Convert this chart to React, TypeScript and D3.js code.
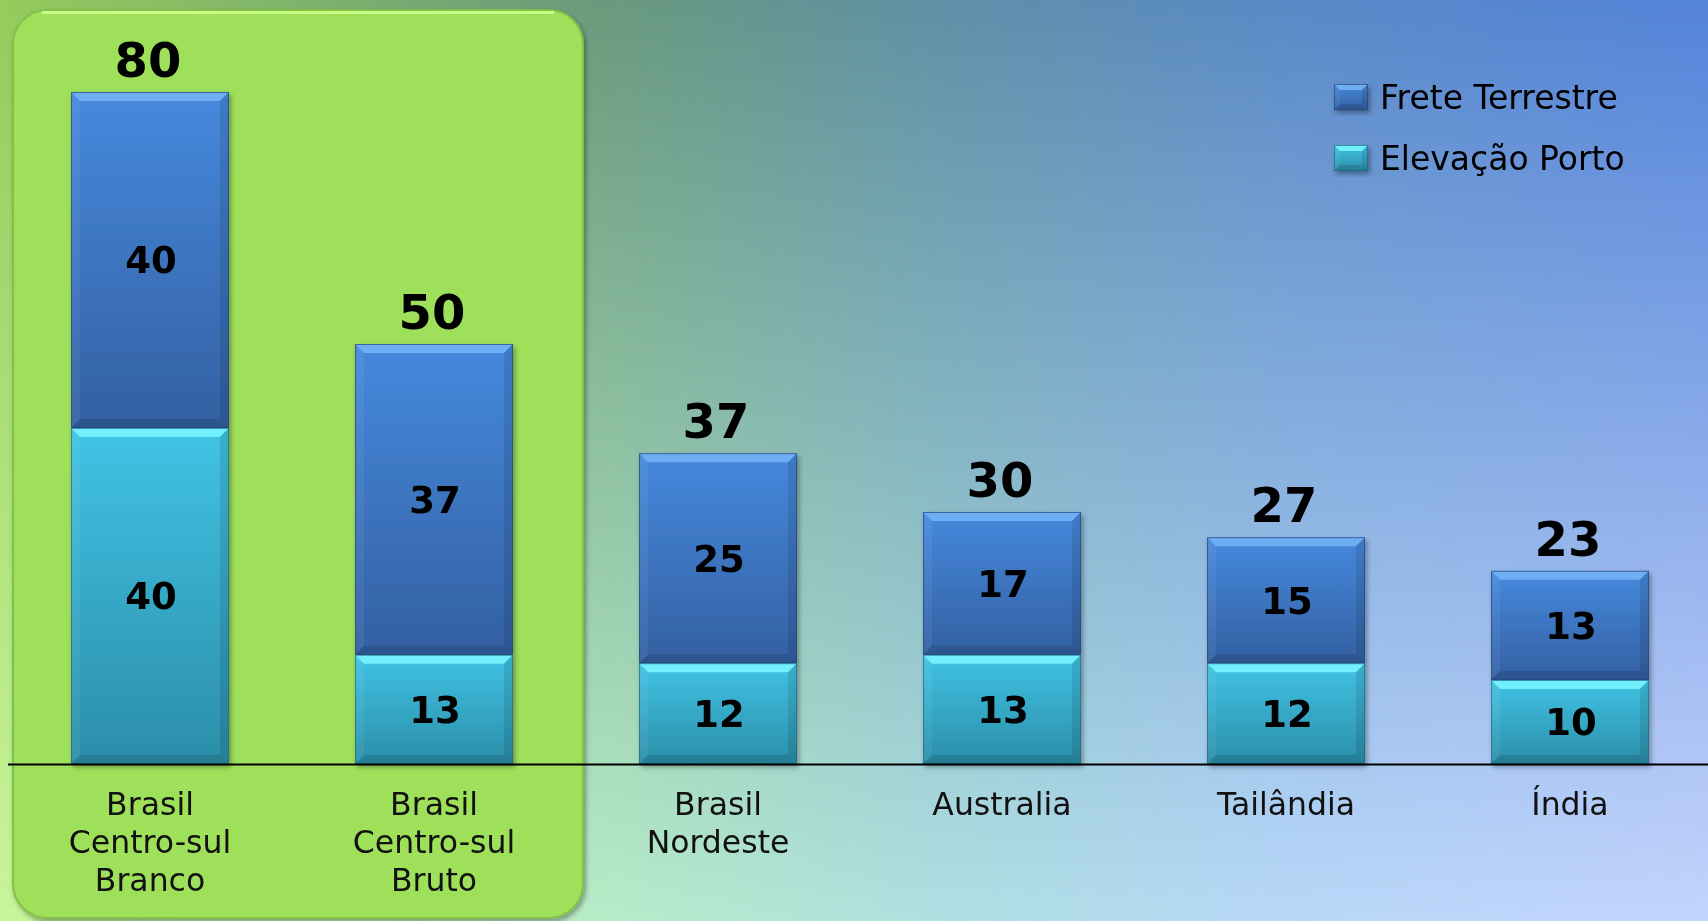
import { useEffect, useRef } from "react";
import * as d3 from "d3";

// categories, one label line per "\n"
const categories = [
  "Brasil\nCentro-sul\nBranco",
  "Brasil\nCentro-sul\nBruto",
  "Brasil\nNordeste",
  "Australia",
  "Tailândia",
  "Índia",
];
const elevacaoPorto = [40, 13, 12, 13, 12, 10];
const freteTerrestre = [40, 37, 25, 17, 15, 13];
const highlighted = [categories[0], categories[1]];
const legendItems = ["Frete Terrestre", "Elevação Porto"];

const W = 1708;
const H = 921;

interface Row {
  cat: string;
  elev: number;
  frete: number;
}

const style = {
  elev: { top: "#41c3e5", bottom: "#2b8ea8", bevel: "#78f4ff", edge: "#1d6a80" },
  frete: { top: "#4689dd", bottom: "#3360a2", bevel: "#74b2f6", edge: "#23467a" },
} as const;

export default function App() {
  const svgRef = useRef<SVGSVGElement>(null);

  useEffect(() => {
    const svg = d3.select(svgRef.current);
    svg.selectAll("*").remove();
    const defs = svg.append("defs");

    // background: top row colours blended into bottom row colours
    const bgTop = defs.append("linearGradient").attr("id", "bgTop");
    [["0", "#95cc5c"], ["0.35", "#6a9a7c"], ["0.55", "#6090a6"], ["0.75", "#5a8ac6"], ["1", "#5484da"]]
      .forEach(([o, c]) => bgTop.append("stop").attr("offset", o).attr("stop-color", c));
    const bgBot = defs.append("linearGradient").attr("id", "bgBot");
    [["0", "#c8f59a"], ["0.35", "#b8ecc8"], ["0.55", "#b0e0e2"], ["0.75", "#b8d8f8"], ["1", "#c4d4fc"]]
      .forEach(([o, c]) => bgBot.append("stop").attr("offset", o).attr("stop-color", c));
    const vMask = defs.append("linearGradient").attr("id", "vMask")
      .attr("x1", 0).attr("y1", 0).attr("x2", 0).attr("y2", 1);
    vMask.append("stop").attr("offset", "0").attr("stop-color", "#fff").attr("stop-opacity", 0);
    vMask.append("stop").attr("offset", "1").attr("stop-color", "#fff").attr("stop-opacity", 1);
    defs.append("mask").attr("id", "bgMask")
      .append("rect").attr("width", W).attr("height", H).attr("fill", "url(#vMask)");

    (Object.keys(style) as (keyof typeof style)[]).forEach(k => {
      const g = defs.append("linearGradient").attr("id", `grad-${k}`)
        .attr("x1", 0).attr("y1", 0).attr("x2", 0).attr("y2", 1);
      g.append("stop").attr("offset", "0").attr("stop-color", style[k].top);
      g.append("stop").attr("offset", "1").attr("stop-color", style[k].bottom);
    });

    const shadow = defs.append("filter").attr("id", "shadow")
      .attr("x", "-10%").attr("y", "-10%").attr("width", "130%").attr("height", "130%");
    shadow.append("feDropShadow").attr("dx", 2).attr("dy", 3).attr("stdDeviation", 2.5)
      .attr("flood-color", "#000").attr("flood-opacity", 0.35);

    svg.append("rect").attr("width", W).attr("height", H).attr("fill", "url(#bgTop)");
    svg.append("rect").attr("width", W).attr("height", H).attr("fill", "url(#bgBot)")
      .attr("mask", "url(#bgMask)");

    const baseline = 764;
    const x = d3.scaleBand<string>()
      .domain(categories)
      .range([8, 1712])
      .paddingInner(0.444)
      .paddingOuter(0.222);
    const y = d3.scaleLinear().domain([0, 80]).range([baseline, 92]);
    const bw = x.bandwidth();

    // highlight panel behind the first two categories
    const px0 = x(highlighted[0])! - 58;
    const px1 = x(highlighted[1])! + bw + 70;
    svg.append("rect")
      .attr("x", px0).attr("y", 10)
      .attr("width", px1 - px0).attr("height", H - 13)
      .attr("rx", 34)
      .attr("fill", "#9fe05a")
      .attr("stroke", "#84c04a")
      .attr("stroke-width", 2)
      .attr("filter", "url(#shadow)");
    svg.append("path")
      .attr("d", `M${px0 + 30},12.5 H${px1 - 30}`)
      .attr("stroke", "#c6ff84").attr("stroke-width", 3).attr("stroke-linecap", "round");

    const rows: Row[] = categories.map((cat, i) => ({
      cat, elev: elevacaoPorto[i], frete: freteTerrestre[i],
    }));
    const stacked = d3.stack<Row>().keys(["elev", "frete"])(rows);

    const bevelBox = (
      g: d3.Selection<SVGGElement, unknown, null, undefined>,
      bx: number, by: number, w: number, h: number, k: keyof typeof style, b: number
    ) => {
      g.append("rect").attr("x", bx).attr("y", by).attr("width", w).attr("height", h)
        .attr("fill", `url(#grad-${k})`);
      g.append("polygon")
        .attr("points", `${bx},${by} ${bx + w},${by} ${bx + w - b},${by + b} ${bx + b},${by + b}`)
        .attr("fill", style[k].bevel).attr("opacity", 0.9);
      g.append("polygon")
        .attr("points", `${bx},${by} ${bx + b},${by + b} ${bx + b},${by + h - b} ${bx},${by + h}`)
        .attr("fill", "#fff").attr("opacity", 0.06);
      g.append("polygon")
        .attr("points", `${bx + w},${by} ${bx + w},${by + h} ${bx + w - b},${by + h - b} ${bx + w - b},${by + b}`)
        .attr("fill", "#000").attr("opacity", 0.1);
      g.append("polygon")
        .attr("points", `${bx},${by + h} ${bx + b},${by + h - b} ${bx + w - b},${by + h - b} ${bx + w},${by + h}`)
        .attr("fill", "#000").attr("opacity", 0.12);
      g.append("rect").attr("x", bx + 0.5).attr("y", by + 0.5).attr("width", w - 1).attr("height", h - 1)
        .attr("fill", "none").attr("stroke", style[k].edge).attr("stroke-opacity", 0.7);
    };

    const bars = svg.append("g").attr("filter", "url(#shadow)");
    stacked.forEach(series => {
      const k = series.key as keyof typeof style;
      series.forEach(d => {
        const g = bars.append("g");
        const top = y(d[1]);
        bevelBox(g, x(d.data.cat)!, top, bw, y(d[0]) - top, k, 9);
      });
    });

    // axis line
    svg.append("line")
      .attr("x1", 8).attr("x2", W).attr("y1", baseline + 0.5).attr("y2", baseline + 0.5)
      .attr("stroke", "#000").attr("stroke-width", 2);

    const font = "'DejaVu Sans', Verdana, sans-serif";

    // segment labels
    stacked.forEach(series => {
      svg.append("g").selectAll("text")
        .data(series)
        .join("text")
        .attr("x", d => x(d.data.cat)! + bw / 2 + 1)
        .attr("y", d => (y(d[0]) + y(d[1])) / 2)
        .attr("dy", "0.36em")
        .attr("text-anchor", "middle")
        .attr("font-family", font)
        .attr("font-weight", "bold")
        .attr("font-size", 37)
        .attr("fill", "#000")
        .text(d => d[1] - d[0]);
    });

    // totals
    svg.append("g").selectAll("text")
      .data(rows)
      .join("text")
      .attr("x", d => x(d.cat)! + bw / 2 - 2)
      .attr("y", d => y(d.elev + d.frete) - 15)
      .attr("text-anchor", "middle")
      .attr("font-family", font)
      .attr("font-weight", "bold")
      .attr("font-size", 48)
      .attr("fill", "#000")
      .text(d => d.elev + d.frete);

    // category labels
    const catG = svg.append("g");
    categories.forEach(c => {
      const t = catG.append("text")
        .attr("x", x(c)! + bw / 2)
        .attr("y", 815)
        .attr("text-anchor", "middle")
        .attr("font-family", font)
        .attr("font-size", 31.5)
        .attr("fill", "#111");
      c.split("\n").forEach((line, i) => {
        t.append("tspan").attr("x", x(c)! + bw / 2).attr("dy", i === 0 ? 0 : 38).text(line);
      });
    });

    // legend
    const legend = svg.append("g").attr("transform", "translate(1334,84)");
    legendItems.forEach((name, i) => {
      const row = legend.append("g").attr("transform", `translate(0,${i * 61})`);
      const sw = row.append("g").attr("filter", "url(#shadow)");
      bevelBox(sw, 0, 0, 34, 26, name === "Frete Terrestre" ? "frete" : "elev", 6);
      row.append("text")
        .attr("x", 46)
        .attr("y", 25)
        .attr("font-family", font)
        .attr("font-size", 33)
        .attr("fill", "#000")
        .text(name);
    });
  }, []);

  return (
    <>
      <style>{`body{margin:0;overflow:hidden}`}</style>
      <svg
        ref={svgRef}
        width={W}
        height={H}
        style={{ position: "absolute", left: 0, top: 0, display: "block" }}
      />
    </>
  );
}
